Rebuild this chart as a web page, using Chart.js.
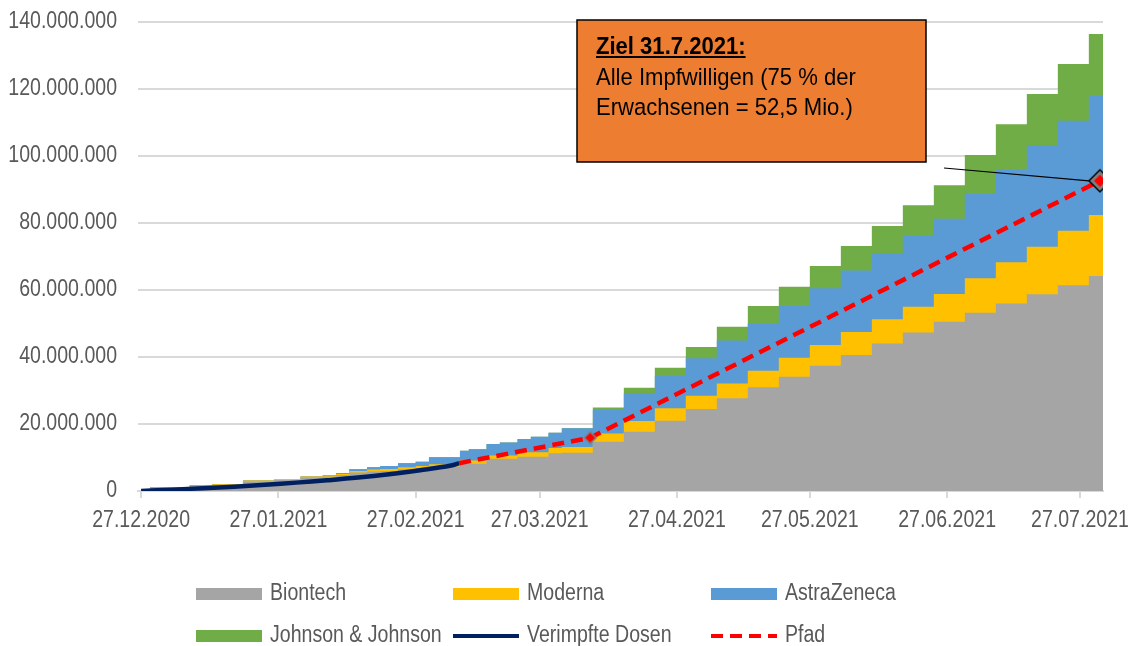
<!DOCTYPE html>
<html lang="de">
<head>
<meta charset="utf-8">
<title>Impfstofflieferungen und verimpfte Dosen</title>
<script src="https://cdn.jsdelivr.net/npm/chart.js@4.4.1/dist/chart.umd.min.js"></script>
<style>
  html, body { margin: 0; padding: 0; background: #fff; }
  #wrap { width: 1133px; height: 646px; }
</style>
</head>
<body>
<div id="wrap"><canvas id="chart" width="1133" height="646"></canvas></div>
<script>
// days counted from 27.12.2020, values in millions (cumulative deliveries)
const stepDays = [0, 2, 11, 16, 23, 30, 36, 41, 44, 47, 51, 54, 58, 62, 65, 72, 74, 78, 81, 85, 88, 92, 95,
  102, 109, 116, 123, 130, 137, 144, 151, 158, 165, 172, 179, 186, 193, 200, 207, 214, 217.2];
const biontech = [0, 1.1, 1.8, 1.8, 2.8, 3.3, 4.0, 4.1, 4.8, 5.5, 5.8, 6.0, 6.5, 6.9, 7.3, 8.1, 8.1, 9.6, 9.6, 10.2, 10.2, 11.3, 11.4,
  14.7, 17.7, 21.0, 24.5, 27.7, 31.0, 34.1, 37.4, 40.6, 44.0, 47.3, 50.5, 53.2, 56.0, 58.7, 61.4, 64.2, 64.2];
const moderna = [0, 0, 0, 0.2, 0.3, 0.3, 0.3, 0.3, 0.3, 0.5, 0.6, 0.6, 0.6, 0.6, 0.7, 1.0, 1.0, 1.0, 1.0, 1.4, 1.4, 1.5, 1.7,
  2.5, 3.2, 3.7, 3.9, 4.4, 4.9, 5.7, 6.2, 6.9, 7.3, 7.7, 8.3, 10.3, 12.3, 14.2, 16.3, 18.2, 18.2];
const astrazeneca = [0, 0, 0, 0, 0, 0, 0, 0.2, 0.2, 0.5, 0.7, 0.9, 1.2, 1.2, 2.1, 2.9, 3.4, 3.4, 3.9, 3.9, 4.6, 4.6, 5.6,
  7.0, 8.3, 9.6, 11.2, 12.8, 14.2, 15.4, 16.9, 18.3, 19.7, 21.1, 22.5, 25.2, 27.7, 30.4, 32.8, 35.5, 35.5];
const johnson = [0, 0, 0, 0, 0, 0, 0, 0, 0, 0, 0, 0, 0, 0, 0, 0, 0, 0, 0, 0, 0, 0, 0,
  0.7, 1.6, 2.5, 3.4, 4.1, 5.1, 5.8, 6.7, 7.3, 8.1, 9.2, 10.0, 11.6, 13.5, 15.2, 17.0, 18.5, 18.5];

const verimpftDays = [0, 7, 14, 21, 28, 35, 42, 49, 56, 63, 70, 71.8];
const verimpftDosen = [0, 0.4, 0.85, 1.3, 1.85, 2.5, 3.2, 4.0, 5.0, 6.2, 7.6, 8.3];

const pfadDays = [71.8, 101.4, 216.5];
const pfad = [8.3, 15.9, 92.6];

const tickDays = [0, 31, 62, 90, 121, 151, 182, 212];
const tickLabels = ['27.12.2020', '27.01.2021', '27.02.2021', '27.03.2021', '27.04.2021', '27.05.2021', '27.06.2021', '27.07.2021'];

const noteTitle = 'Ziel 31.7.2021:';
const noteLines = ['Alle Impfwilligen (75 % der', 'Erwachsenen = 52,5 Mio.)'];

const MIO = 1e6;
function toPoints(days, values) {
  return days.map((d, i) => ({ x: d, y: values[i] * MIO }));
}

// the original picture is squeezed sideways, so text is drawn a bit narrower
const family = '"Liberation Sans", Arial, sans-serif';
const textSize = 23;
const textSqueeze = 0.85;
const noteSize = 24.5;
const noteSqueeze = 0.9;

function squeezeText(ctx, text, x, y, align, sx) {
  ctx.save();
  ctx.translate(x, y);
  ctx.scale(sx, 1);
  ctx.textAlign = align;
  ctx.fillText(text, 0, 0);
  ctx.restore();
}

function diamond(outer, layers) {
  const size = Math.ceil(outer * 2 + 4);
  const c = document.createElement('canvas');
  c.width = size; c.height = size;
  const g = c.getContext('2d');
  const m = size / 2;
  layers.forEach(([r, col]) => {
    g.beginPath();
    g.moveTo(m, m - r); g.lineTo(m + r, m); g.lineTo(m, m + r); g.lineTo(m - r, m);
    g.closePath();
    g.fillStyle = col;
    g.fill();
  });
  return c;
}
const smallDiamond = diamond(7, [[7, '#7f7f7f'], [4.8, '#ff0000']]);
const bigDiamond = diamond(12, [[12, '#000000'], [10, '#7f7f7f'], [6, '#ff0000']]);
const pfadMarkers = [false, smallDiamond, bigDiamond];

function fmt(v) {
  return String(Math.round(v)).replace(/\B(?=(\d{3})+(?!\d))/g, '.');
}

function area(label, values, color) {
  return {
    label: label,
    data: toPoints(stepDays, values),
    backgroundColor: color,
    borderColor: color,
    borderWidth: 0,
    fill: 'origin',
    stepped: 'before',
    pointRadius: 0,
    stack: 'lieferung',
    order: 2
  };
}

// tick labels of both axes, taken from the scales
const tickTextPlugin = {
  id: 'tickText',
  afterDraw(chart) {
    const ctx = chart.ctx;
    const xs = chart.scales.x, ys = chart.scales.y;
    ctx.save();
    ctx.font = textSize + 'px ' + family;
    ctx.fillStyle = '#595959';
    ctx.textBaseline = 'middle';
    ys.ticks.forEach(t => {
      squeezeText(ctx, fmt(t.value), ys.right - 21, ys.getPixelForValue(t.value), 'right', textSqueeze);
    });
    xs.ticks.forEach((t, i) => {
      squeezeText(ctx, tickLabels[i], xs.getPixelForValue(t.value), xs.top + 30, 'center', textSqueeze);
    });
    ctx.restore();
  }
};

// orange note box with leader line to the target point
const notePlugin = {
  id: 'note',
  afterDatasetsDraw(chart) {
    const ctx = chart.ctx;
    const last = pfadDays.length - 1;
    const tx = chart.scales.x.getPixelForValue(pfadDays[last]);
    const ty = chart.scales.y.getPixelForValue(pfad[last] * MIO);
    ctx.save();
    ctx.strokeStyle = '#000';
    ctx.lineWidth = 1.2;
    ctx.beginPath();
    ctx.moveTo(944, 168);
    ctx.lineTo(tx - 11, ty);
    ctx.stroke();

    ctx.fillStyle = '#ed7d31';
    ctx.fillRect(577, 20, 349, 142);
    ctx.lineWidth = 1.5;
    ctx.strokeRect(577, 20, 349, 142);

    ctx.fillStyle = '#000';
    ctx.textBaseline = 'alphabetic';
    ctx.font = 'bold ' + noteSize + 'px ' + family;
    squeezeText(ctx, noteTitle, 596, 54, 'left', noteSqueeze);
    const w = ctx.measureText(noteTitle).width * noteSqueeze;
    ctx.fillRect(596, 56, w, 2);
    ctx.font = noteSize + 'px ' + family;
    noteLines.forEach((t, i) => squeezeText(ctx, t, 596, 85 + i * 30, 'left', noteSqueeze));
    ctx.restore();
  }
};

// three column legend below the chart
const legendPlugin = {
  id: 'gridLegend',
  afterDraw(chart) {
    const ctx = chart.ctx;
    const cols = [196, 453, 711];
    const rows = [594, 636];
    ctx.save();
    ctx.font = textSize + 'px ' + family;
    ctx.textBaseline = 'middle';
    chart.data.datasets.forEach((ds, i) => {
      const x = cols[i % 3];
      const y = rows[Math.floor(i / 3)];
      if (ds.fill) {
        ctx.fillStyle = ds.backgroundColor;
        ctx.fillRect(x, y - 6, 66, 12);
      } else {
        ctx.strokeStyle = ds.borderColor;
        ctx.lineWidth = 4;
        ctx.setLineDash(ds.borderDash || []);
        ctx.beginPath();
        ctx.moveTo(x, y);
        ctx.lineTo(x + 66, y);
        ctx.stroke();
        ctx.setLineDash([]);
      }
      ctx.fillStyle = '#595959';
      squeezeText(ctx, ds.label, x + 74, y, 'left', textSqueeze);
    });
    ctx.restore();
  }
};

new Chart(document.getElementById('chart'), {
  type: 'line',
  data: {
    datasets: [
      area('Biontech', biontech, '#a5a5a5'),
      area('Moderna', moderna, '#ffc000'),
      area('AstraZeneca', astrazeneca, '#5b9bd5'),
      area('Johnson & Johnson', johnson, '#70ad47'),
      {
        label: 'Verimpfte Dosen',
        data: toPoints(verimpftDays, verimpftDosen),
        borderColor: '#002060',
        backgroundColor: '#002060',
        borderWidth: 4.5,
        tension: 0.4,
        fill: false,
        pointRadius: 0,
        stack: 'verimpft',
        order: 1
      },
      {
        label: 'Pfad',
        data: toPoints(pfadDays, pfad),
        borderColor: '#ff0000',
        backgroundColor: '#ff0000',
        borderWidth: 4.5,
        borderDash: [12, 7],
        fill: false,
        pointStyle: (c) => pfadMarkers[c.dataIndex],
        pointRadius: [0, 7, 12],
        stack: 'pfad',
        order: 0
      }
    ]
  },
  options: {
    responsive: false,
    animation: false,
    devicePixelRatio: 1,
    layout: { padding: { top: 22, right: 30, bottom: 0, left: 0 } },
    plugins: {
      legend: { display: false },
      tooltip: { enabled: false }
    },
    scales: {
      x: {
        type: 'linear',
        min: -0.7,
        max: 217.2,
        afterBuildTicks: (scale) => { scale.ticks = tickDays.map(v => ({ value: v })); },
        afterFit: (scale) => { scale.height = 155; scale.paddingLeft = 0; scale.paddingRight = 0; },
        ticks: { display: false, autoSkip: false, maxRotation: 0 },
        grid: { drawOnChartArea: false, drawTicks: true, tickLength: 7, color: '#d9d9d9', lineWidth: 2 },
        border: { display: true, color: '#d9d9d9', width: 2 }
      },
      y: {
        stacked: true,
        min: 0,
        max: 140 * MIO,
        afterFit: (scale) => { scale.width = 138; scale.paddingTop = 0; scale.paddingBottom = 0; },
        ticks: { display: false, stepSize: 20 * MIO },
        grid: { color: '#d9d9d9', lineWidth: 2, drawTicks: false },
        border: { display: false }
      }
    }
  },
  plugins: [tickTextPlugin, notePlugin, legendPlugin]
});
</script>
</body>
</html>
